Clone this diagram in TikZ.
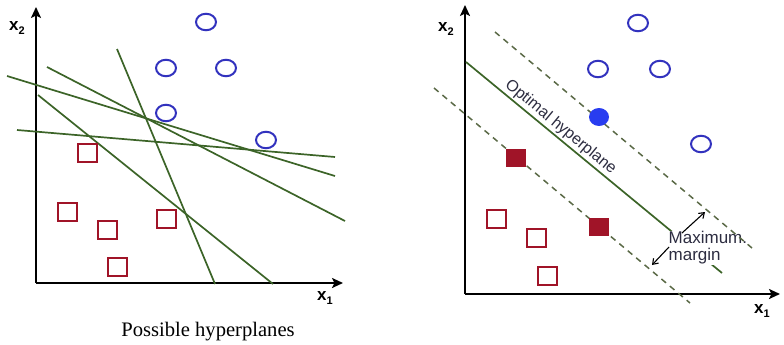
\documentclass[tikz,border=0pt]{standalone}
\usepackage{fontspec}
\setmainfont{Liberation Serif}
\setsansfont{Liberation Sans}
\usetikzlibrary{arrows.meta,shapes.geometric}
\definecolor{cblue}{RGB}{50,50,190}
\definecolor{cfill}{RGB}{40,60,240}
\definecolor{cred}{RGB}{160,20,40}
\definecolor{cgreen}{RGB}{60,100,40}
\definecolor{cdash}{RGB}{90,105,70}
\definecolor{ctext}{RGB}{45,45,65}
\newcommand{\axl}[1]{x\raisebox{-4pt}{\fontsize{11}{11}\selectfont #1}}
\begin{document}
\begin{tikzpicture}[x=1pt,y=-1pt,
  poscls/.style={ellipse, draw=cblue, line width=2pt, minimum width=20pt, minimum height=16.5pt, inner sep=0pt},
  poscf/.style={ellipse, fill=cfill, minimum width=20pt, minimum height=18pt, inner sep=0pt},
  negcls/.style={rectangle, draw=cred, line width=2pt, minimum width=19pt, minimum height=18pt, inner sep=0pt},
  negcf/.style={rectangle, fill=cred, minimum width=20pt, minimum height=18.5pt, inner sep=0pt},
  hyp/.style={cgreen, line width=1.7pt},
  marg/.style={cdash, line width=1.5pt, dash pattern=on 6pt off 5pt},
  axis/.style={line width=2.2pt, -{Stealth[length=11pt,width=10pt,inset=2.5pt]}},
  axlab/.style={font=\sffamily\bfseries\fontsize{17}{17}\selectfont, inner sep=0pt},
  marrow/.style={line width=1.1pt, -{Straight Barb[length=5pt,width=7pt]}},
]
\useasboundingbox (0,0) rectangle (784,345);

% ---------------- left panel ----------------
\coordinate (LO) at (36,283);
\coordinate (LY) at (36,7);
\coordinate (LX) at (343,283);
\draw[axis] (LO) -- (LY);
\draw[axis] (LO) -- (LX);
\node[axlab] (lx2) at (17,28) {\axl{2}};
\node[axlab] (lx1) at (325,298) {\axl{1}};

% hyperplanes
\coordinate (h1a) at (7,76);   \coordinate (h1b) at (335,176);
\coordinate (h2a) at (47,67);  \coordinate (h2b) at (345,221);
\coordinate (h3a) at (38,95);  \coordinate (h3b) at (273,284);
\coordinate (h4a) at (17,130); \coordinate (h4b) at (335,157);
\coordinate (h5a) at (117,49); \coordinate (h5b) at (215,284);
\draw[hyp] (h1a) -- (h1b);
\draw[hyp] (h2a) -- (h2b);
\draw[hyp] (h3a) -- (h3b);
\draw[hyp] (h4a) -- (h4b);
\draw[hyp] (h5a) -- (h5b);

\node[poscls] (lc1) at (206,22) {};
\node[poscls] (lc2) at (166,68) {};
\node[poscls] (lc3) at (226,68) {};
\node[poscls] (lc4) at (166,113) {};
\node[poscls] (lc5) at (266,140) {};

\node[negcls] (ls1) at (87,153) {};
\node[negcls] (ls2) at (67,212) {};
\node[negcls] (ls3) at (107,230) {};
\node[negcls] (ls4) at (166,219) {};
\node[negcls] (ls5) at (117,267) {};

\node[font=\fontsize{20.6}{24}\selectfont, inner sep=0pt] (cap) at (208,332) {Possible hyperplanes};

% ---------------- right panel ----------------
\coordinate (RO) at (465,294);
\coordinate (RY) at (465,5);
\coordinate (RX) at (780,294);
\draw[axis] (RO) -- (RY);
\draw[axis] (RO) -- (RX);
\node[axlab] (rx2) at (446,29) {\axl{2}};
\node[axlab] (rx1) at (762,311) {\axl{1}};

\coordinate (opa) at (466,62);
\coordinate (opb) at (722,273);
\draw[hyp] (opa) -- (opb)
  node[pos=0.345, sloped, above=1.5pt, font=\sffamily\fontsize{16}{16}\selectfont, text=ctext, inner sep=0pt] (optlab) {Optimal hyperplane};

\node[anchor=west, align=left, fill=white, inner sep=0.5pt, text=ctext,
      font=\sffamily\fontsize{17}{17}\selectfont] (mm) at (668,248) {Maximum.\\margin};

\coordinate (upa) at (495,32);  \coordinate (upb) at (752,248);
\coordinate (loa) at (434,88);  \coordinate (lob) at (690,303);
\draw[marg] (upa) -- (upb);
\draw[marg] (loa) -- (lob);

\coordinate (ma1) at (682,233); \coordinate (mt1) at (705,212);
\coordinate (ma2) at (669,247); \coordinate (mt2) at (652,265);
\draw[marrow] (ma1) -- (mt1);
\draw[marrow] (ma2) -- (mt2);

\node[poscls] (rc1) at (638,23) {};
\node[poscls] (rc2) at (598,69) {};
\node[poscls] (rc3) at (660,69) {};
\node[poscls] (rc4) at (701,144) {};
\node[poscf] (rcf) at (599,117) {};

\node[negcf] (rsf1) at (516,158) {};
\node[negcf] (rsf2) at (599,227) {};
\node[negcls] (rs1) at (496,219) {};
\node[negcls] (rs2) at (536,238) {};
\node[negcls] (rs3) at (547,276) {};
\end{tikzpicture}
\end{document}
